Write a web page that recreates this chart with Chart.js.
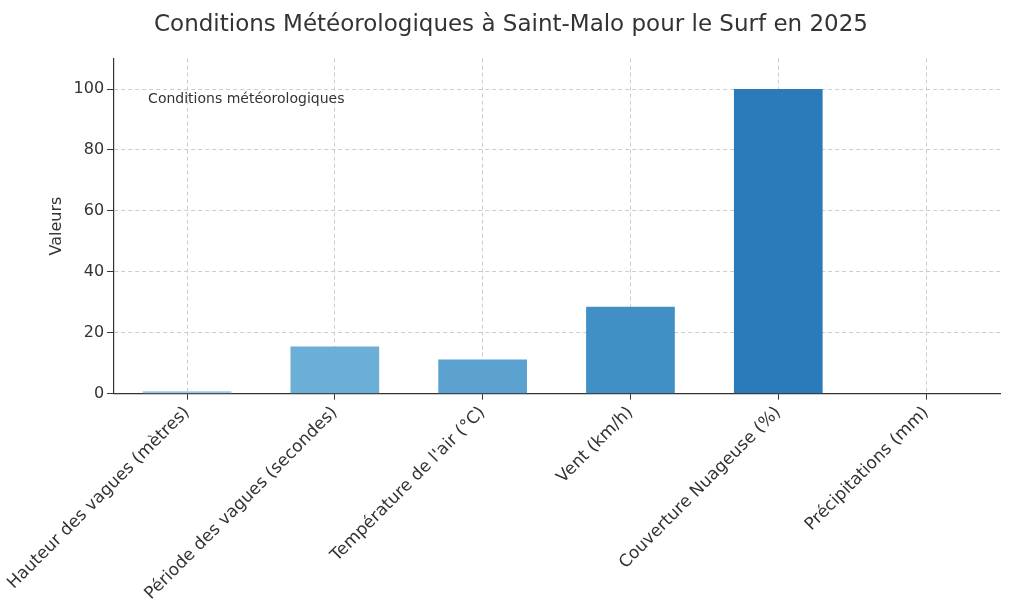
<!DOCTYPE html>
<html><head><meta charset="utf-8">
<script src="https://cdn.jsdelivr.net/npm/chart.js@4"></script>
<style>html,body{margin:0;background:#fff}#w{width:1024px;height:615px}</style>
</head><body><div id="w"><canvas id="c"></canvas></div>
<script>
const CATS = ['Hauteur des vagues (mètres)', 'Période des vagues (secondes)', "Température de l'air (°C)", 'Vent (km/h)', 'Couverture Nuageuse (%)', 'Précipitations (mm)'];
const VALS = [0.8, 15.5, 11.2, 28.5, 100, 0];
const COLORS = ['#9ecae1', '#6baed6', '#5aa1d0', '#4190c5', '#2b7bba', '#1c66aa'];
const Y_TICKS = [0, 20, 40, 60, 80, 100];

const legendText = {
  id: 'legendText',
  afterDraw(ch) {
    const c = ch.ctx;
    c.save();
    c.font = '14px "DejaVu Sans"';
    c.fillStyle = '#333';
    c.textBaseline = 'middle';
    c.fillText('Conditions météorologiques', ch.chartArea.left + 35, ch.scales.y.getPixelForValue(96.5));
    c.restore();
  }
};

new Chart(document.getElementById('c'), {
  type: 'bar',
  data: { labels: CATS, datasets: [{ data: VALS, backgroundColor: COLORS, barPercentage: 0.6, categoryPercentage: 1 }] },
  options: {
    responsive: true, maintainAspectRatio: false, animation: false,
    layout: { padding: { left: 22, right: 24, top: 5, bottom: 8 } },
    plugins: {
      legend: { display: false }, tooltip: { enabled: false },
      title: { display: true, text: 'Conditions Météorologiques à Saint-Malo pour le Surf en 2025',
        color: '#333', font: { family: 'DejaVu Sans', size: 23, weight: 'normal' }, padding: { top: 6, bottom: 20 } }
    },
    scales: {
      x: {
        grid: { offset: false, color: '#ccc', tickLength: 6, tickColor: '#333' },
        border: { color: '#333', width: 1.2, dash: [4, 3] },
        ticks: { color: '#333', font: { family: 'DejaVu Sans', size: 17 }, maxRotation: 45, minRotation: 45 }
      },
      y: {
        min: 0, max: 110,
        afterBuildTicks: s => { s.ticks = Y_TICKS.map(v => ({ value: v })); },
        title: { display: true, text: 'Valeurs', color: '#333', font: { family: 'DejaVu Sans', size: 16 } },
        grid: { color: '#ccc', tickLength: 6, tickColor: '#333' },
        border: { color: '#333', width: 1.2, dash: [4, 3] },
        ticks: { color: '#333', font: { family: 'DejaVu Sans', size: 16 } }
      }
    }
  },
  plugins: [legendText]
});
</script></body></html>
